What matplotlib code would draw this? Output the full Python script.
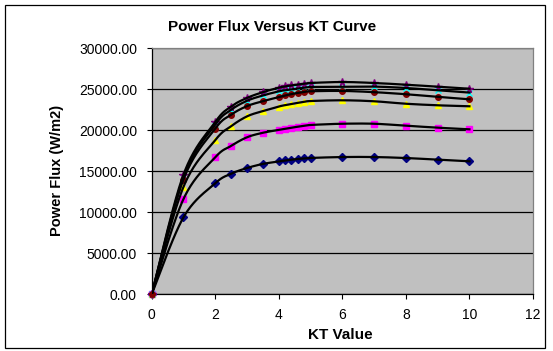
import numpy as np
import matplotlib.pyplot as plt
from matplotlib.patches import Rectangle

plt.rcParams['font.family'] = ['Liberation Sans', 'DejaVu Sans']

# KT values (x) shared by all series
kt = [0, 1, 2, 2.5, 3, 3.5, 4, 4.2, 4.4, 4.6, 4.8, 5, 6, 7, 8, 9, 10]

# power flux readings (W/m2), one list per series
flux_navy = [0, 9390, 13540, 14700, 15400, 15900, 16200, 16320, 16420, 16500,
             16570, 16630, 16740, 16740, 16620, 16420, 16220]
flux_magenta = [0, 11620, 16710, 18100, 19150, 19700, 20050, 20200, 20320, 20440,
                20550, 20650, 20800, 20800, 20560, 20320, 20120]
flux_yellow = [0, 13100, 18800, 20500, 21700, 22350, 22900, 23070, 23220, 23350,
               23460, 23570, 23660, 23540, 23240, 23050, 22930]
flux_cyan = [0, 14300, 20690, 22500, 23600, 24250, 24750, 24880, 24990, 25090,
             25190, 25280, 25300, 25330, 25160, 24880, 24600]
flux_purple = [0, 14600, 21010, 22900, 23950, 24650, 25200, 25350, 25470, 25580,
               25680, 25770, 25890, 25770, 25560, 25320, 25070]
flux_darkred = [0, 14000, 20200, 21900, 22950, 23550, 24050, 24250, 24420, 24560,
                24670, 24760, 24800, 24650, 24400, 24080, 23780]

series = [
    (flux_navy, '#000080', 'D', 4.0),
    (flux_magenta, '#FF00FF', 's', 4.0),
    (flux_yellow, '#FFFF00', '^', 4.5),
    (flux_cyan, '#00FFFF', 'x', 4.5),
    (flux_purple, '#800080', '*', 5.5),
    (flux_darkred, '#800000', 'o', 4.0),
]


def smooth(x, y, n=24):
    # Excel style smoothed line (bezier through the points)
    p = np.column_stack([x, y]).astype(float)
    p = np.vstack([p[0], p, p[-1]])
    out = []
    for i in range(1, len(p) - 2):
        p0, p1, p2, p3 = p[i - 1], p[i], p[i + 1], p[i + 2]
        c1 = p1 + (p2 - p0) / 6
        c2 = p2 - (p3 - p1) / 6
        t = np.linspace(0, 1, n)[:, None]
        seg = ((1 - t) ** 3) * p1 + 3 * ((1 - t) ** 2) * t * c1 + 3 * (1 - t) * t ** 2 * c2 + t ** 3 * p2
        out.append(seg if i == 1 else seg[1:])
    out = np.vstack(out)
    return out[:, 0], out[:, 1]


fig = plt.figure(figsize=(5.53, 3.51), dpi=100)
ax = fig.add_axes([0.2743, 0.1615, 0.6895, 0.7009])
ax.set_facecolor('#C0C0C0')

# chart border
fig.patches.append(Rectangle((0.0096, 0.0077), 0.976, 0.977, transform=fig.transFigure,
                             fill=False, edgecolor='black', lw=0.9))

for vals, col, mk, ms in series:
    ax.plot(kt, vals, linestyle='none', marker=mk, color=col, markersize=ms,
            markeredgecolor=col, markeredgewidth=1.0, clip_on=False, zorder=3)
for vals, col, mk, ms in series:
    sx, sy = smooth(kt, vals)
    ax.plot(sx, sy, color='black', lw=1.6, zorder=4)

ax.set_xlim(0, 12)
ax.set_ylim(0, 30000)
ax.set_xticks(range(0, 13, 2))
ax.set_yticks(range(0, 30001, 5000))
ax.set_yticklabels([f'{v:.2f}' for v in range(0, 30001, 5000)])
ax.yaxis.grid(True, color='black', lw=0.9)
ax.set_axisbelow(True)
ax.tick_params(direction='out', length=3.6, width=0.8, labelsize=10, color='black')
ax.tick_params(axis='y', pad=7)
ax.tick_params(axis='x', pad=6.5)

for s in ['top', 'right']:
    ax.spines[s].set_color('#808080')
    ax.spines[s].set_linewidth(0.9)
for s in ['left', 'bottom']:
    ax.spines[s].set_color('black')
    ax.spines[s].set_linewidth(0.9)

fig.text(0.492, 0.9245, 'Power Flux Versus KT Curve', ha='center', va='center',
         fontsize=11, fontweight='bold')
fig.text(0.1025, 0.5134, 'Power Flux (W/m2)', ha='center', va='center',
         rotation=90, fontsize=10.5, fontweight='bold')
fig.text(0.615, 0.047, 'KT Value', ha='center', va='center',
         fontsize=11, fontweight='bold')

fig.savefig('out.png', dpi=100)
